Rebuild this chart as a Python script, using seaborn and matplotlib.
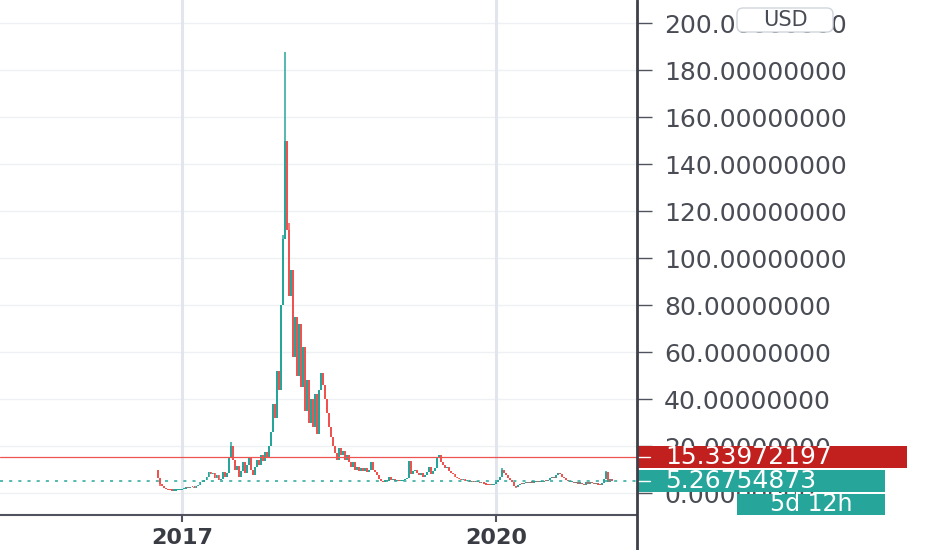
import pandas as pd
import numpy as np
import matplotlib
matplotlib.use("Agg")
import matplotlib.pyplot as plt
import matplotlib.dates as mdates
import matplotlib.transforms as mtransforms
from matplotlib.patches import Rectangle, FancyBboxPatch
from matplotlib.lines import Line2D
import seaborn as sns

# weekly candles
start_week = "2016-10-10"
first_open = 9.8
closes = [
    6.4, 4.0, 2.8, 2.0, 1.5, 1.2, 1.1, 1.0, 1.0, 1.1,
    1.2, 1.3, 1.5, 1.8, 2.4, 2.2, 2.6, 2.5, 2.3, 2.8,
    3.5, 4.5, 4.8, 5.5, 7.0, 9.0, 8.2, 8.5, 6.5, 7.5,
    5.5, 6.0, 9.0, 7.0, 8.5, 15.0, 20.0, 14.0, 10.0, 11.5,
    7.0, 9.5, 13.0, 8.5, 12.0, 15.0, 10.0, 7.5, 11.0, 14.0,
    12.0, 16.0, 13.5, 17.5, 15.5, 20.0, 26.0, 38.0, 32.0, 52.0,
    44.0, 80.0, 108.0, 150.0, 112.0, 84.0, 95.0, 58.0, 75.0, 50.0,
    72.0, 45.0, 62.0, 35.0, 48.0, 30.0, 40.0, 28.0, 42.0, 25.0,
    44.0, 51.0, 46.0, 40.0, 34.0, 28.0, 24.0, 20.0, 17.0, 14.0,
    19.0, 16.0, 18.0, 14.0, 16.0, 13.0, 11.0, 13.0, 10.0, 11.0,
    9.5, 10.5, 9.5, 10.5, 9.0, 10.0, 13.0, 10.0, 9.0, 7.5,
    6.0, 5.0, 4.5, 5.5, 5.0, 7.0, 5.5, 5.8, 5.2, 5.4,
    5.0, 5.2, 5.5, 6.0, 6.5, 13.5, 8.0, 9.5, 10.0, 8.5,
    7.5, 8.5, 7.0, 7.5, 9.0, 11.0, 8.0, 9.5, 10.5, 15.0,
    16.0, 13.0, 12.0, 10.5, 11.0, 9.5, 8.5, 8.0, 7.0, 6.5,
    6.0, 5.5, 6.0, 5.0, 5.5, 4.8, 5.2, 4.8, 5.0, 4.5,
    4.2, 4.4, 4.0, 3.6, 3.4, 3.2, 3.5, 4.0, 4.5, 5.5,
    7.0, 9.8, 8.5, 7.5, 6.5, 5.5, 4.5, 3.0, 2.6, 3.5,
    4.0, 3.8, 4.3, 4.5, 4.2, 4.6, 4.4, 4.8, 5.0, 4.7,
    5.0, 4.8, 5.2, 5.0, 5.5, 6.2, 7.0, 6.5, 7.5, 8.5,
    8.0, 7.0, 6.5, 5.5, 5.0, 4.5, 4.6, 4.2, 4.5, 4.0,
    4.3, 3.8, 3.5, 4.5, 4.0, 4.8, 4.2, 3.8, 4.4, 3.6,
    3.5, 4.2, 6.0, 9.0, 4.5, 5.8, 5.26754873,
]
# visible wicks (week index -> price)
wick_highs = {0: 10.0, 36: 21.5, 62: 110.0, 63: 187.5, 65: 115.0, 171: 10.5, 223: 9.5}
wick_lows = {1: 3.0, 178: 2.2}

year_ticks = ["2017-01-01", "2020-01-01"]
year_labels = ["2017", "2020"]
price_ticks = list(range(0, 201, 20))
prev_close = 15.33972197
last_close = closes[-1]
countdown = "5d 12h"
currency = "USD"

UP = "#26a69a"
DOWN = "#ef5350"
TXT = "#4a4c55"

sns.set_theme(style="white")
plt.rcParams["font.family"] = ["DejaVu Sans"]

df = pd.DataFrame({
    "date": pd.date_range(start_week, periods=len(closes), freq="7D"),
    "close": closes,
})
df["open"] = df["close"].shift(1).fillna(first_open)
df["high"] = df[["open", "close"]].max(axis=1)
df["low"] = df[["open", "close"]].min(axis=1)
for k, v in wick_highs.items():
    df.loc[k, "high"] = max(df.loc[k, "high"], v)
for k, v in wick_lows.items():
    df.loc[k, "low"] = min(df.loc[k, "low"], v)
df["up"] = df["close"] >= df["open"]
df["color"] = np.where(df["up"], UP, DOWN)
x = mdates.date2num(df["date"])

fig = plt.figure(figsize=(9.32, 5.5), dpi=100)
ax = fig.add_axes([0, 35 / 550, 637 / 932, 515 / 550])

# grid
for yv in price_ticks:
    ax.axhline(yv, color="#eef0f4", lw=1, zorder=0)
for d in year_ticks:
    ax.axvline(mdates.datestr2num(d), color="#e2e5eb", lw=2.2, zorder=0)

# candles
ax.vlines(x, df["low"], df["high"], colors=df["color"], lw=1.1, zorder=2)
body_bottom = df[["open", "close"]].min(axis=1)
body_h = (df["close"] - df["open"]).abs().clip(lower=0.5)
ax.bar(x, body_h, bottom=body_bottom, width=6.6, color=df["color"], linewidth=0, zorder=3)

# price lines
ax.axhline(prev_close, color=DOWN, lw=0.9, zorder=4)
ax.axhline(last_close, color=UP, lw=1.1, ls=(0, (2, 4)), zorder=4)

ax.set_xlim(mdates.datestr2num("2015-04-07"), mdates.datestr2num("2021-05-06"))
ax.set_ylim(-9.36, 209.8)

ax.set_xticks([mdates.datestr2num(d) for d in year_ticks])
ax.set_xticklabels(year_labels, fontweight="bold", fontsize=16, color="#3a3c44")
ax.tick_params(axis="x", length=5, width=1.5, color="#50535e", pad=4, bottom=True)

ax.yaxis.tick_right()
ax.set_yticks(price_ticks)
ax.set_yticklabels([f"{v:.8f}" for v in price_ticks], fontsize=18, color=TXT)
ax.tick_params(axis="y", length=10.5, width=1, color="#50535e", pad=9, right=True)

for s in ["top", "left", "right"]:
    ax.spines[s].set_visible(False)
ax.spines["bottom"].set_color("#50535e")
ax.spines["bottom"].set_linewidth(1.5)

# right price scale border, full height
fig.add_artist(Line2D([637 / 932] * 2, [0, 1], color="#3d3f4a", lw=2, transform=fig.transFigure))

# price labels on the scale
tr = mtransforms.blended_transform_factory(ax.transAxes, ax.transData)
unit = 20 / 47  # price units per pixel
half = 11 * unit
ax.add_patch(Rectangle((1.0, prev_close - half), 907 / 637 - 1.0, 2 * half, transform=tr,
                       facecolor="#c2201f", edgecolor="none", clip_on=False, zorder=5))
ax.add_patch(Rectangle((1.0, last_close - half), 885 / 637 - 1.0, 2 * half, transform=tr,
                       facecolor=UP, edgecolor="none", clip_on=False, zorder=5))
cd_top = last_close - half - 2 * unit
ax.add_patch(Rectangle((737 / 637, cd_top - 21 * unit), (885 - 737) / 637, 21 * unit, transform=tr,
                       facecolor=UP, edgecolor="none", clip_on=False, zorder=5))
for yv in [prev_close, last_close]:
    ax.add_line(Line2D([1.0, 1.02], [yv, yv], color="white", lw=1, transform=tr, clip_on=False, zorder=6))
ax.text(665 / 637, prev_close, f"{prev_close:.8f}", transform=tr, color="white", fontsize=18,
        va="center", ha="left", clip_on=False, zorder=7)
ax.text(665 / 637, last_close, f"{last_close:.8f}", transform=tr, color="white", fontsize=18,
        va="center", ha="left", clip_on=False, zorder=7)
ax.text(811 / 637, cd_top - 10.5 * unit, countdown, transform=tr, color="white", fontsize=17,
        va="center", ha="center", clip_on=False, zorder=7)

# currency button
fig.add_artist(FancyBboxPatch((7.37, 5.18), 0.96, 0.24, boxstyle="round,pad=0,rounding_size=0.06",
                              transform=fig.dpi_scale_trans, facecolor="white",
                              edgecolor="#d1d4dc", lw=1, zorder=5))
fig.text(7.85, 5.30, currency, transform=fig.dpi_scale_trans, ha="center", va="center",
         fontsize=15, color=TXT, zorder=6)

fig.savefig("out.png", dpi=100, facecolor="white")
